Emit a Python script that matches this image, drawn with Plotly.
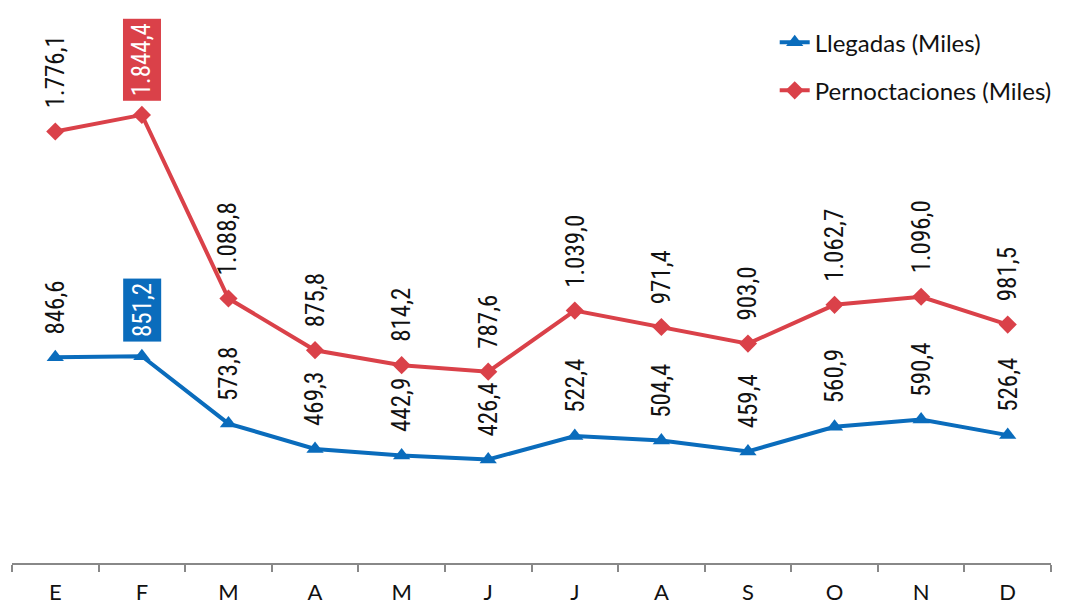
import plotly.graph_objects as go

meses = ["E", "F", "M", "A", "M", "J", "J", "A", "S", "O", "N", "D"]
llegadas = [846.6, 851.2, 573.8, 469.3, 442.9, 426.4, 522.4, 504.4, 459.4, 560.9, 590.4, 526.4]
pernoctaciones = [1776.1, 1844.4, 1088.8, 875.8, 814.2, 787.6, 1039.0, 971.4, 903.0, 1062.7, 1096.0, 981.5]
destacado = 1  # F: label shown boxed

AZUL = "#0A6CBC"
ROJO = "#DA4149"
NARROW = "Liberation Sans Narrow, Arial Narrow, Roboto Condensed, sans-serif"


def fmt(v):
    s = f"{v:,.1f}"
    return s.replace(",", "X").replace(".", ",").replace("X", ".")


x = list(range(len(meses)))

fig = go.Figure()
fig.add_trace(go.Scatter(
    x=x, y=llegadas, name="Llegadas (Miles)", mode="lines+markers",
    line=dict(color=AZUL, width=4),
    marker=dict(symbol="triangle-up", size=15, color=AZUL),
    legendgroup="a",
))
fig.add_trace(go.Scatter(
    x=x, y=pernoctaciones, name="Pernoctaciones (Miles)", mode="lines+markers",
    line=dict(color=ROJO, width=4),
    marker=dict(symbol="diamond", size=14, color=ROJO),
    legendgroup="b",
))

for serie, color in [(llegadas, AZUL), (pernoctaciones, ROJO)]:
    for i, v in enumerate(serie):
        boxed = i == destacado
        fig.add_annotation(
            x=i, y=v, text=fmt(v), textangle=-90, showarrow=False,
            yanchor="bottom", yshift=14 if boxed else 22,
            font=dict(family=NARROW, size=25, color="white" if boxed else "#111"),
            bgcolor=color if boxed else None,
            borderpad=4 if boxed else 0,
        )

fig.update_layout(
    width=1073, height=607,
    margin=dict(l=12, r=22, t=3, b=44, autoexpand=False),
    paper_bgcolor="white", plot_bgcolor="white",
    legend=dict(
        xref="container", yref="container", x=0.722, y=0.967,
        xanchor="left", yanchor="top",
        font=dict(family="Lato, Open Sans, sans-serif", size=24, color="#111"),
        tracegroupgap=14, bgcolor="rgba(0,0,0,0)",
    ),
    xaxis=dict(
        range=[-0.5, 11.5], tickvals=x, ticktext=meses,
        ticks="outside", ticklen=9, tickcolor="rgba(0,0,0,0)",
        showgrid=False, zeroline=False, showline=True,
        linecolor="#888", linewidth=2,
        tickfont=dict(family="Lato, Open Sans, sans-serif", size=22, color="#111"),
        minor=dict(tick0=0.5, dtick=1, ticks="outside", ticklen=7,
                   tickcolor="#888", tickwidth=2, showgrid=False),
    ),
    yaxis=dict(range=[0, 2305], visible=False, showgrid=False, zeroline=False),
)

fig.write_html("out.html", config={"displayModeBar": False},
               post_script="document.body.style.margin='0';")
